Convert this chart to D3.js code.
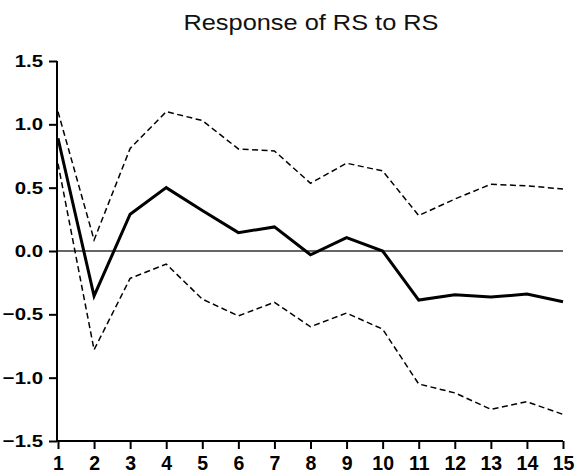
<!DOCTYPE html>
<html>
<head>
<meta charset="utf-8">
<script src="https://cdn.jsdelivr.net/npm/d3@7"></script>
<style>
  html, body { margin: 0; padding: 0; background: #fff; }
  svg { display: block; font-family: "Liberation Sans", Arial, Helvetica, sans-serif; }
</style>
</head>
<body>
<svg id="chart" width="581" height="476"></svg>
<script>
// Impulse response of RS to a shock in RS, with +/- 2 S.E. bands
const periods = [1, 2, 3, 4, 5, 6, 7, 8, 9, 10, 11, 12, 13, 14, 15];
const response = [0.89, -0.355, 0.29, 0.50, 0.32, 0.145, 0.19, -0.03, 0.105, 0.0, -0.387, -0.345, -0.364, -0.34, -0.40];
const upperBand = [1.10, 0.087, 0.81, 1.10, 1.03, 0.806, 0.79, 0.535, 0.693, 0.632, 0.28, 0.41, 0.527, 0.514, 0.49];
const lowerBand = [0.69, -0.78, -0.216, -0.103, -0.38, -0.512, -0.405, -0.598, -0.49, -0.617, -1.05, -1.12, -1.25, -1.19, -1.29];
const yTicks = [-1.5, -1.0, -0.5, 0.0, 0.5, 1.0, 1.5];
const title = "Response of RS to RS";

const svg = d3.select("#chart");
const plot = { left: 57, right: 563, top: 61, bottom: 441 };

const x = d3.scaleLinear().domain([1, 15]).range([58, 563]);
const y = d3.scaleLinear().domain([-1.5, 1.5]).range([plot.bottom, plot.top]);

// title, drawn in a slightly wide face
svg.append("text")
  .attr("transform", "translate(311,30) scale(1.18,1)")
  .attr("text-anchor", "middle")
  .attr("font-size", 21.5)
  .attr("fill", "#111")
  .text(title);

// zero reference line
svg.append("line")
  .attr("x1", plot.left).attr("x2", plot.right)
  .attr("y1", y(0)).attr("y2", y(0))
  .attr("stroke", "#333").attr("stroke-width", 1.4);

// axes
const yAxis = svg.append("g")
  .attr("transform", `translate(${plot.left},0)`)
  .call(d3.axisLeft(y).tickValues(yTicks).tickFormat(d3.format(".1f")).tickSize(8).tickSizeOuter(0).tickPadding(6));
const xAxis = svg.append("g")
  .attr("transform", `translate(0,${plot.bottom})`)
  .call(d3.axisBottom(x).tickValues(periods).tickFormat(d3.format("d")).tickSize(8).tickSizeOuter(0).tickPadding(7));

[yAxis, xAxis].forEach(g => {
  g.select(".domain").attr("stroke", "#000").attr("stroke-width", 2);
  g.selectAll(".tick line").attr("stroke", "#000").attr("stroke-width", 2);
  g.selectAll(".tick text")
    .attr("fill", "#000")
    .attr("font-weight", "bold")
    .attr("font-family", "'Liberation Sans', Arial, sans-serif");
});
// y labels: wide bold numerals, right edge kept 14px left of the axis
yAxis.selectAll(".tick text")
  .attr("font-size", 17)
  .attr("x", -14 / 1.2)
  .attr("transform", "scale(1.2,1)");
xAxis.selectAll(".tick text").attr("font-size", 19.5);
// extend axes to meet at the corner
xAxis.select(".domain").attr("d", `M${plot.left},0H${plot.right}`);
yAxis.select(".domain").attr("d", `M0,${plot.top}V${plot.bottom + 1}`);

const line = d3.line().x((d, i) => x(periods[i])).y(d => y(d));

svg.append("path").datum(upperBand)
  .attr("d", line).attr("fill", "none")
  .attr("stroke", "#000").attr("stroke-width", 1.5)
  .attr("stroke-dasharray", "6,3.5");
svg.append("path").datum(lowerBand)
  .attr("d", line).attr("fill", "none")
  .attr("stroke", "#000").attr("stroke-width", 1.5)
  .attr("stroke-dasharray", "6,3.5");
svg.append("path").datum(response)
  .attr("d", line).attr("fill", "none")
  .attr("stroke", "#000").attr("stroke-width", 3)
  .attr("stroke-linejoin", "miter");
</script>
</body>
</html>
